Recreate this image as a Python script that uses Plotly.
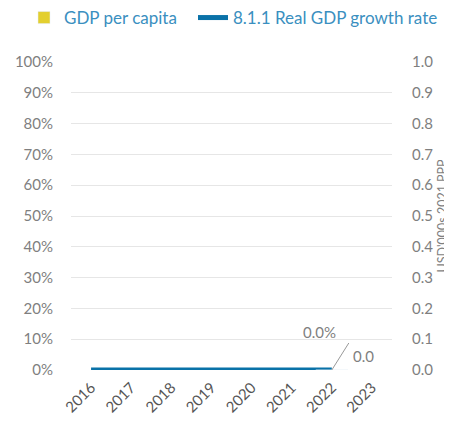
import plotly.graph_objects as go

years = ["2016", "2017", "2018", "2019", "2020", "2021", "2022", "2023"]
growth_rate = [0.0, 0.0, 0.0, 0.0, 0.0, 0.0, 0.0, None]
gdp_per_capita = [None, None, None, None, None, None, 0.0, None]

BLUE = "#0a72a8"
YELLOW = "#e3cf2f"
GRID = "#e6e6e6"
TICK = "#7f7f7f"
LEG = "#3a8fc0"
FONT = "Lato"

W, H = 444, 426

last = max(i for i, v in enumerate(growth_rate) if v is not None)

fig = go.Figure()
fig.add_trace(go.Bar(x=years, y=gdp_per_capita, name="GDP per capita",
                     marker_color=YELLOW, yaxis="y2", legend="legend"))
fig.add_trace(go.Scatter(x=years, y=growth_rate, name="8.1.1 Real GDP growth rate",
                         mode="lines", line=dict(color=BLUE, width=5),
                         legend="legend2"))

fig.add_annotation(x=last, y=growth_rate[last], xref="x", yref="y",
                   text=f"{growth_rate[last]*100:.1f}%",
                   showarrow=True, arrowcolor="rgba(0,0,0,0)", ax=-12, ay=-38,
                   font=dict(family=FONT, size=15, color=TICK))
fig.add_annotation(x=last, y=gdp_per_capita[last], xref="x", yref="y2",
                   text=f"{gdp_per_capita[last]:.1f}",
                   showarrow=True, arrowhead=0, arrowwidth=1, arrowcolor="#999999",
                   ax=17, ay=-27, xanchor="left", yanchor="top", borderpad=3,
                   font=dict(family=FONT, size=15, color=TICK))
fig.add_annotation(x=1, xref="paper", xshift=59, y=0.5, yref="paper",
                   text="USD'000s 2021 PPP", textangle=-90, showarrow=False,
                   font=dict(family=FONT, size=12.5, color=TICK))

leg_common = dict(orientation="h", yref="container", xref="container",
                  y=1 - 10 / H, yanchor="middle", xanchor="left",
                  font=dict(family=FONT, size=17, color=LEG), itemwidth=30)

fig.update_layout(
    width=W, height=H,
    margin=dict(l=63, r=60, t=54, b=64, autoexpand=False),
    paper_bgcolor="white", plot_bgcolor="white",
    font=dict(family=FONT, color=TICK),
    showlegend=True,
    legend=dict(x=16 / W, **leg_common),
    legend2=dict(x=185 / W, **leg_common),
    xaxis=dict(type="category", categoryorder="array", categoryarray=years,
               range=[-0.5, 7.5], tickangle=-45, showgrid=False, showline=False,
               tickfont=dict(family=FONT, size=15, color="#555555"), automargin=False,
               ticks="outside", ticklen=2, tickcolor="rgba(0,0,0,0)"),
    yaxis=dict(range=[0, 1], dtick=0.1, tickformat=".0%", showgrid=True, gridcolor=GRID,
               zeroline=False, tickfont=dict(family=FONT, size=15, color=TICK),
               automargin=False,
               ticks="outside", ticklen=14, tickcolor="rgba(0,0,0,0)"),
    yaxis2=dict(range=[0, 1], dtick=0.1, tickformat=".1f", overlaying="y", side="right",
                showgrid=False, zeroline=False, automargin=False,
                ticks="outside", ticklen=16, tickcolor="rgba(0,0,0,0)",
                tickfont=dict(family=FONT, size=15, color=TICK)),
)

fig.write_html("out.html")
